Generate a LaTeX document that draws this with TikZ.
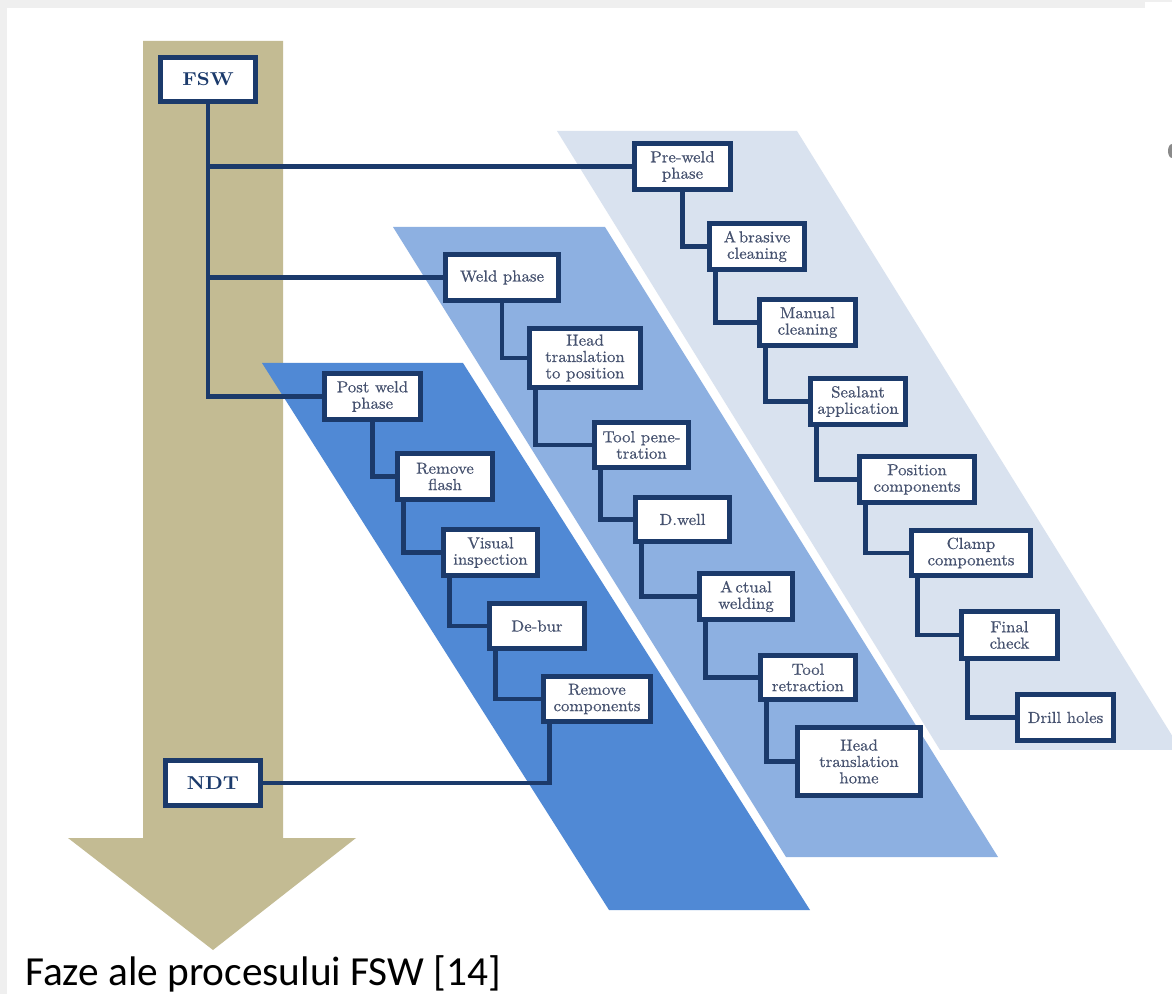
\documentclass[tikz,border=0pt]{standalone}
\usepackage{fontspec}
\newfontfamily\capfont{Carlito}
\newfontfamily\boxfont{lmroman10-regular.otf}[FakeStretch=1.05,FakeBold=0.6]
\newfontfamily\boxbold{lmroman10-bold.otf}[FakeStretch=1.08]
\definecolor{bggray}{HTML}{EFEFEF}
\definecolor{tan}{HTML}{C3BB93}
\definecolor{bandlight}{HTML}{D9E2EF}
\definecolor{bandmid}{HTML}{8DB0E1}
\definecolor{banddark}{HTML}{5089D5}
\definecolor{boxline}{HTML}{1B3A6B}
\definecolor{boxtext}{HTML}{46526F}
\definecolor{blob}{HTML}{8A8A8A}
\tikzset{
  procbox/.style 2 args={draw=boxline, line width=3.6pt, fill=white, inner sep=0pt,
    minimum width=#1*0.75pt-3.6pt, minimum height=#2*0.75pt-3.6pt, align=center,
    text=boxtext, font=\boxfont\fontsize{12}{12.3}\selectfont},
  mainbox/.style 2 args={procbox={#1}{#2}, text=boxline, font=\boxbold\fontsize{14}{15}\selectfont},
  conn/.style={draw=boxline, line width=3.5pt},
}
\begin{document}
\begin{tikzpicture}[x=0.75pt,y=-0.75pt]
\useasboundingbox (0,0) rectangle (1172,994);
% background
\fill[bggray] (0,0) rectangle (1172,994);
\fill[white] (7,8) rectangle (1172,994);
\fill[white] (1145,2) rectangle (1172,8);
\fill[blob] (1172,151) ellipse [x radius=4, y radius=7];
% tan arrow
\fill[tan] (143,41) -- (283,41) -- (283,838) -- (356,838) -- (213,950) -- (68,838) -- (143,838) -- cycle;
% bands
\fill[bandlight] (557,131) -- (797,131) -- (1181,750) -- (940,750) -- cycle;
\fill[bandmid] (393,227) -- (605,227) -- (998,857) -- (786,857) -- cycle;
\fill[banddark] (262,363) -- (463,363) -- (810,910) -- (609,910) -- cycle;
% main nodes
\node[mainbox={100}{49}] (fsw) at (208,79.5) {FSW};
\node[mainbox={100}{50}] (ndt) at (213,783) {NDT};
% pre-weld
\node[procbox={101}{51}] (pre) at (682.5,166.5) {Pre-weld\\phase};
\node[procbox={100}{51}] (abr) at (757,246.5) {A\kern2pt brasive\\cleaning};
\node[procbox={101}{51}] (man) at (807.5,322.5) {Manual\\cleaning};
\node[procbox={100}{51}] (seal) at (858,401.5) {Sealant\\application};
\node[procbox={120}{51}] (pos) at (917,479.5) {Position\\components};
\node[procbox={124}{50}] (clamp) at (971,553) {Clamp\\components};
\node[procbox={101}{52}] (fin) at (1009.5,635) {Final\\check};
\node[procbox={101}{51}] (drill) at (1065.5,717.5) {Drill holes};
% weld
\node[procbox={118}{51}] (weld) at (502,277.5) {Weld phase};
\node[procbox={116}{64}] (htp) at (585,358) {Head\\translation\\to position};
\node[procbox={99}{50}] (tp) at (641.5,445) {Tool pene-\\tration};
\node[procbox={99}{49}] (dw) at (682.5,519.5) {D.well};
\node[procbox={98}{51}] (aw) at (746,596.5) {A\kern2pt ctual\\welding};
\node[procbox={100}{49}] (tr) at (808,677.5) {Tool\\retraction};
\node[procbox={128}{73}] (hth) at (859,761.5) {Head\\translation\\home};
% post weld
\node[procbox={101}{51}] (post) at (372.5,396.5) {Post weld\\phase};
\node[procbox={100}{51}] (rf) at (445,476.5) {Remove\\flash};
\node[procbox={99}{51}] (vi) at (490.5,552.5) {Visual\\inspection};
\node[procbox={100}{50}] (db) at (537,626) {De-bur};
\node[procbox={112}{50}] (rc) at (597,699) {Remove\\components};
% connectors
\draw[conn] (fsw.south) |- (pre.west);
\draw[conn] (fsw.south) |- (weld.west);
\draw[conn] (fsw.south) |- (post.west);
\draw[conn] (pre.south) |- (abr.west);
\draw[conn] ([xshift=6.2pt]abr.south west) |- (man.west);
\draw[conn] ([xshift=6.2pt]man.south west) |- (seal.west);
\draw[conn] ([xshift=6.2pt]seal.south west) |- (pos.west);
\draw[conn] ([xshift=6.2pt]pos.south west) |- (clamp.west);
\draw[conn] ([xshift=6.2pt]clamp.south west) |- (fin.west);
\draw[conn] ([xshift=6.2pt]fin.south west) |- (drill.west);
\draw[conn] (weld.south) |- (htp.west);
\draw[conn] ([xshift=6.2pt]htp.south west) |- (tp.west);
\draw[conn] ([xshift=6.2pt]tp.south west) |- (dw.west);
\draw[conn] ([xshift=6.2pt]dw.south west) |- (aw.west);
\draw[conn] ([xshift=6.2pt]aw.south west) |- (tr.west);
\draw[conn] ([xshift=6.2pt]tr.south west) |- (hth.west);
\draw[conn] (post.south) |- (rf.west);
\draw[conn] ([xshift=6.2pt]rf.south west) |- (vi.west);
\draw[conn] ([xshift=6.2pt]vi.south west) |- (db.west);
\draw[conn] ([xshift=6.2pt]db.south west) |- (rc.west);
\draw[conn] (ndt.east) -| ([xshift=6.2pt]rc.south west);
% caption
\node[anchor=base west, inner sep=0pt, font=\capfont\fontsize{31}{36}\selectfont, text=black] (cap) at (25,985) {Faze ale procesului FSW [14]};
\end{tikzpicture}
\end{document}
